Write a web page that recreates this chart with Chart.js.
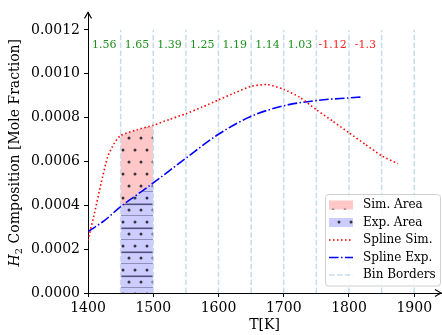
<!DOCTYPE html>
<html>
<head>
<meta charset="utf-8">
<script src="https://cdn.jsdelivr.net/npm/chart.js@4"></script>
<style>
html,body{margin:0;padding:0;background:#fff;}
#wrap{width:442px;height:335px;}
</style>
</head>
<body>
<div id="wrap"><canvas id="c" width="442" height="335"></canvas></div>
<script>
// spline curves
const simT = [1400,1410,1420,1430,1440,1450,1475,1500,1525,1550,1575,1600,1625,1650,1675,1700,1725,1750,1775,1800,1825,1850,1875];
const simV = [2.4e-4,3.65e-4,5.0e-4,6.2e-4,6.82e-4,7.18e-4,7.45e-4,7.65e-4,7.92e-4,8.18e-4,8.48e-4,8.81e-4,9.13e-4,9.43e-4,9.51e-4,9.29e-4,8.92e-4,8.36e-4,7.84e-4,7.31e-4,6.78e-4,6.26e-4,5.9e-4];
const expT = [1400,1425,1450,1475,1500,1550,1600,1650,1700,1750,1800,1820];
const expV = [2.8e-4,3.3e-4,3.94e-4,4.48e-4,5.02e-4,6.15e-4,7.24e-4,8.06e-4,8.54e-4,8.78e-4,8.9e-4,8.94e-4];

// shaded bin 1450-1500
const areaT = [1450,1475,1500];
const simAreaV = [7.18e-4,7.45e-4,7.63e-4];
const expAreaV = [3.94e-4,4.48e-4,5.02e-4];

// bins + ratio labels
const binEdges = [1450,1500,1550,1600,1650,1700,1750,1800,1850,1900];
const binRatios = ["1.56","1.65","1.39","1.25","1.19","1.14","1.03","-1.12","-1.3"];
const binLabelY = 0.00113;
const binTop = 0.0012;

const xTicks = [1400,1500,1600,1700,1800,1900];
const yTicks = [0,0.0002,0.0004,0.0006,0.0008,0.0010,0.0012];

const FONT = "'DejaVu Serif', 'Liberation Serif', serif";

function makePattern(bg, draw) {
  const p = document.createElement("canvas");
  p.width = 12; p.height = 24;
  const g = p.getContext("2d");
  g.fillStyle = bg; g.fillRect(0,0,12,24);
  draw(g);
  return document.getElementById("c").getContext("2d").createPattern(p, "repeat");
}
function dots(g) {
  g.fillStyle = "rgba(25,25,35,0.85)";
  [[3,6],[9,18]].forEach(([x,y])=>{ g.beginPath(); g.arc(x,y,1.5,0,Math.PI*2); g.fill(); });
}
const simPattern = makePattern("rgba(255,0,0,0.22)", dots);
const expPattern = makePattern("rgba(0,0,255,0.2)", g=>{
  dots(g);
  g.fillStyle = "rgba(50,50,90,0.8)";
  g.fillRect(0,11.5,12,1.6); g.fillRect(0,23.5,12,1.6);
});

const pts = (xs,ys)=>xs.map((x,i)=>({x, y:ys[i]}));

const datasets = [
  {label:"Sim. Area", data:pts(areaT,simAreaV), fill:1, backgroundColor:simPattern, borderWidth:0, pointRadius:0, order:3},
  {label:"Exp. Area", data:pts(areaT,expAreaV), fill:"origin", backgroundColor:expPattern, borderWidth:0, pointRadius:0, order:3},
  {label:"Spline Sim.", data:pts(simT,simV), borderColor:"#ff0000", borderWidth:1.6, borderDash:[1.5,2.5], pointRadius:0, fill:false, tension:0.2, order:1},
  {label:"Spline Exp.", data:pts(expT,expV), borderColor:"#0000ff", borderWidth:1.6, borderDash:[9.6,2.4,1.5,2.4], pointRadius:0, fill:false, cubicInterpolationMode:"monotone", order:1},
];
binEdges.forEach((b,i)=>datasets.push({
  label: i===0 ? "Bin Borders" : "", data:[{x:b,y:0},{x:b,y:binTop}],
  borderColor:"#c6dcec", borderWidth:1.5, borderDash:[5.5,2.4], pointRadius:0, fill:false, order:2
}));

const extras = {
  id:"extras",
  afterDatasetsDraw(chart) {
    const {ctx, scales:{x,y}, chartArea:a} = chart;
    ctx.save();
    // ratio labels per bin
    ctx.font = "11px " + FONT; ctx.textAlign = "center"; ctx.textBaseline = "middle";
    const starts = [xTicks[0]].concat(binEdges);
    binRatios.forEach((t,i)=>{
      ctx.fillStyle = t.startsWith("-") ? "#ff2020" : "#1f8f1f";
      ctx.fillText(t, x.getPixelForValue((starts[i]+starts[i+1])/2), y.getPixelForValue(binLabelY));
    });
    // axis arrows
    ctx.strokeStyle = "#000"; ctx.lineWidth = 1.1; ctx.setLineDash([]);
    ctx.beginPath();
    ctx.moveTo(a.left-3.5, a.top+6); ctx.lineTo(a.left, a.top); ctx.lineTo(a.left+3.5, a.top+6);
    ctx.moveTo(a.right-6, a.bottom-3.5); ctx.lineTo(a.right, a.bottom); ctx.lineTo(a.right-6, a.bottom+3.5);
    ctx.stroke();
    // axis titles
    ctx.fillStyle = "#000"; ctx.textBaseline = "middle";
    ctx.font = "14px " + FONT; ctx.textAlign = "center";
    ctx.fillText("T[K]", (a.left+a.right)/2, 325);
    ctx.translate(15, (a.top+a.bottom)/2); ctx.rotate(-Math.PI/2);
    ctx.textAlign = "left";
    const fI = "italic 14px " + FONT, fS = "10px " + FONT, fN = "14px " + FONT;
    const rest = " Composition [Mole Fraction]";
    ctx.font = fI; const wH = ctx.measureText("H").width;
    ctx.font = fS; const w2 = ctx.measureText("2").width;
    ctx.font = fN; const wR = ctx.measureText(rest).width;
    let cx = -(wH+w2+wR)/2;
    ctx.font = fI; ctx.fillText("H", cx, 0); cx += wH;
    ctx.font = fS; ctx.fillText("2", cx, 4); cx += w2;
    ctx.font = fN; ctx.fillText(rest, cx, 0);
    ctx.restore();
    drawLegend(chart);
  }
};

function drawLegend(chart) {
  const ctx = chart.ctx;
  const bx = 325.5, by = 194.5, bw = 115, bh = 91.5;
  ctx.save();
  ctx.beginPath(); ctx.roundRect(bx, by, bw, bh, 3);
  ctx.fillStyle = "rgba(255,255,255,0.85)"; ctx.fill();
  ctx.strokeStyle = "#d0d0d0"; ctx.lineWidth = 1; ctx.stroke();
  const items = chart.data.datasets.slice(0,5);
  items.forEach((d,i)=>{
    const yy = 205 + i*17.5;
    if (i < 2) {
      ctx.fillStyle = "#fff"; ctx.fillRect(329, yy-4.5, 24, 9);
      ctx.fillStyle = d.backgroundColor; ctx.fillRect(329, yy-4.5, 24, 9);
    } else {
      ctx.beginPath(); ctx.moveTo(329, yy); ctx.lineTo(353, yy);
      ctx.setLineDash(d.borderDash); ctx.strokeStyle = d.borderColor; ctx.lineWidth = d.borderWidth; ctx.stroke();
      ctx.setLineDash([]);
    }
    ctx.fillStyle = "#000"; ctx.font = "12px " + FONT; ctx.textAlign = "left"; ctx.textBaseline = "middle";
    ctx.fillText(d.label, 363, yy);
  });
  ctx.restore();
}

const axisCommon = {
  grid:{display:true, drawOnChartArea:false, drawTicks:true, tickLength:4, color:"#000", tickWidth:1},
  border:{display:true, color:"#000", width:1},
};

new Chart(document.getElementById("c"), {
  type:"line",
  data:{datasets},
  options:{
    responsive:false, animation:false, devicePixelRatio:1,
    layout:{padding:{left:28, right:1, top:8, bottom:0}},
    plugins:{legend:{display:false}, tooltip:{enabled:false}},
    scales:{
      x:{type:"linear", min:1400, max:1941, ...axisCommon,
        afterBuildTicks:s=>{ s.ticks = xTicks.map(v=>({value:v})); },
        afterFit:s=>{ s.height = 42; },
        ticks:{font:{family:FONT, size:14}, color:"#000", padding:3, maxRotation:0, autoSkip:false, callback:v=>String(v)}},
      y:{type:"linear", min:0, max:0.00128, ...axisCommon,
        afterBuildTicks:s=>{ s.ticks = yTicks.map(v=>({value:v})); },
        afterFit:s=>{ s.width = 60; },
        ticks:{font:{family:FONT, size:14}, color:"#000", padding:4, autoSkip:false, callback:v=>v.toFixed(4)}}
    }
  },
  plugins:[extras]
});
</script>
</body>
</html>
